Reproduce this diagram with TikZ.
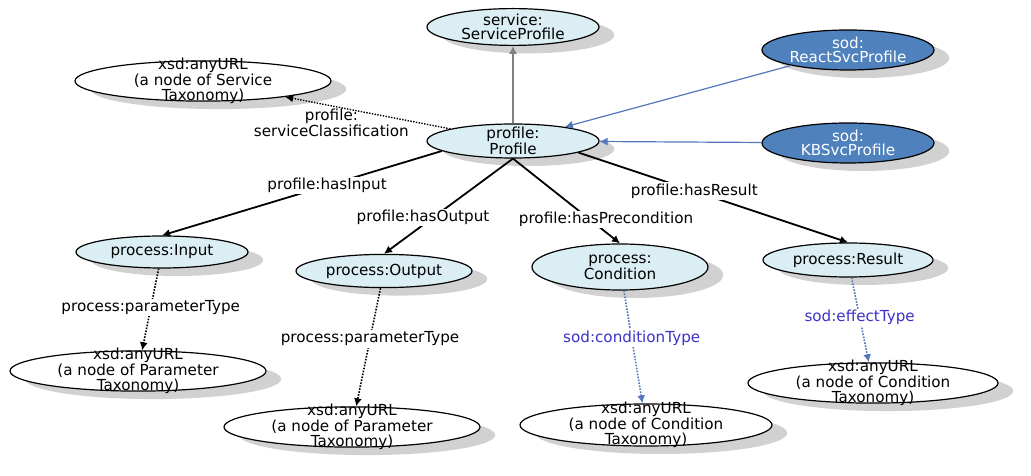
\documentclass[tikz,border=0pt]{standalone}
\usepackage{fontspec}
\setmainfont{DejaVu Sans}
\usepackage{tikz}
\usetikzlibrary{shapes,arrows,arrows.meta,shadows,positioning}
\definecolor{lightcls}{RGB}{218,238,243}
\definecolor{sodblue}{RGB}{79,129,189}
\definecolor{sodline}{RGB}{84,118,186}
\definecolor{sodtext}{RGB}{60,50,200}
\definecolor{gray50}{RGB}{128,128,128}
\tikzset{
	>={Latex[width=2mm,length=2mm]},
	% Specifications for style of nodes:
	cls/.style = {ellipse, draw=black, line width=0.3mm, fill=lightcls,
	inner sep=-6pt, minimum width=4.3cm, minimum height=0.85cm,
	text centered,
	drop shadow={shadow xshift=0.38cm, shadow yshift=-0.2cm, fill=gray!60, opacity=0.6}},
	ext/.style = {cls, fill=sodblue, text=white},
	tax/.style = {cls, fill=white, minimum width=6.4cm, minimum height=1cm},
	lbl/.style = {fill=white, inner sep=1pt},
	sodlbl/.style = {lbl, text=sodtext},
}

\begin{document}
\begin{tikzpicture}[node distance=2cm, every node/.style={font=\fontsize{10.8}{10.3}\selectfont}, align=center]
		\useasboundingbox (-12.825,3.525) rectangle (12.95,-8.375);
		% draw blocks
		\node (profile)[cls]{profile:\\Profile};
		\node (svcprof)[cls, node distance=2.85cm, above of=profile, minimum height=0.92cm]{service:\\ServiceProfile};
		\node (svctax)[tax, node distance=7.75cm, left of=profile, yshift=1.5cm, minimum height=0.95cm]{xsd:anyURL\\(a node of Service\\Taxonomy)};
		\node (react)[ext, node distance=8.375cm, right of=profile, yshift=2.275cm, minimum height=1cm]{sod:\\ReactSvcProfile};
		\node (kb)[ext, node distance=8.375cm, right of=profile, yshift=-0.05cm, minimum height=1cm]{sod:\\KBSvcProfile};
		% process classes
		\node (input)[cls, node distance=2.775cm, below of=profile, xshift=-8.775cm, minimum height=0.8cm]{process:Input};
		\node (output)[cls, node distance=3.25cm, below of=profile, xshift=-3.225cm, minimum width=4.4cm, minimum height=0.83cm]{process:Output};
		\node (cond)[cls, node distance=3.15cm, below of=profile, xshift=2.675cm, minimum width=4.4cm, minimum height=1.15cm]{process:\\Condition};
		\node (result)[cls, node distance=2.975cm, below of=profile, xshift=8.375cm, minimum width=4.25cm]{process:Result};
		% taxonomy nodes
		\node (partax1)[tax, node distance=2.975cm, below of=input, xshift=-0.6cm]{xsd:anyURL\\(a node of Parameter\\Taxonomy)};
		\node (partax2)[tax, node distance=3.9cm, below of=output, xshift=-0.8cm]{xsd:anyURL\\(a node of Parameter\\Taxonomy)};
		\node (condtax1)[tax, node distance=3.95cm, below of=cond, xshift=0.65cm, minimum width=6.3cm, minimum height=1.05cm]{xsd:anyURL\\(a node of Condition\\Taxonomy)};
		\node (condtax2)[tax, node distance=3.075cm, below of=result, xshift=0.625cm, minimum width=6.25cm]{xsd:anyURL\\(a node of Condition\\Taxonomy)};
		% draw arrows between nodes
		\draw[line width=0.3mm, gray50, ->](profile) -- (svcprof);
		\draw[line width=0.35mm, densely dotted, ->](profile) -- (svctax) node[pos=0.72, below, inner sep=2pt]{profile:\\serviceClassification};
		\draw[line width=0.3mm, sodline, ->](react) -- (profile);
		\draw[line width=0.3mm, sodline, ->](kb) -- (profile);
		\draw[line width=0.45mm, ->](profile.-172) -- (input.north) node[lbl, pos=0.41]{profile:hasInput};
		\draw[line width=0.45mm, ->](profile.south) -- (output.north) node[lbl, pos=0.62, xshift=-0.25cm]{profile:hasOutput};
		\draw[line width=0.45mm, ->](profile.south) -- (cond.north) node[lbl, pos=0.72, xshift=0.4cm]{profile:hasPrecondition};
		\draw[line width=0.45mm, ->](profile.-10) -- (result.north) node[lbl, pos=0.43]{profile:hasResult};
		\draw[line width=0.4mm, densely dotted, ->](input) -- (partax1) node[lbl, pos=0.48]{process:parameterType};
		\draw[line width=0.4mm, densely dotted, ->](output) -- (partax2) node[lbl, pos=0.43]{process:parameterType};
		\draw[line width=0.4mm, densely dotted, sodline, ->](cond) -- (condtax1) node[sodlbl, pos=0.42]{sod:conditionType};
		\draw[line width=0.4mm, densely dotted, sodline, ->](result) -- (condtax2) node[sodlbl, pos=0.47]{sod:effectType};
	\end{tikzpicture}
\end{document}
